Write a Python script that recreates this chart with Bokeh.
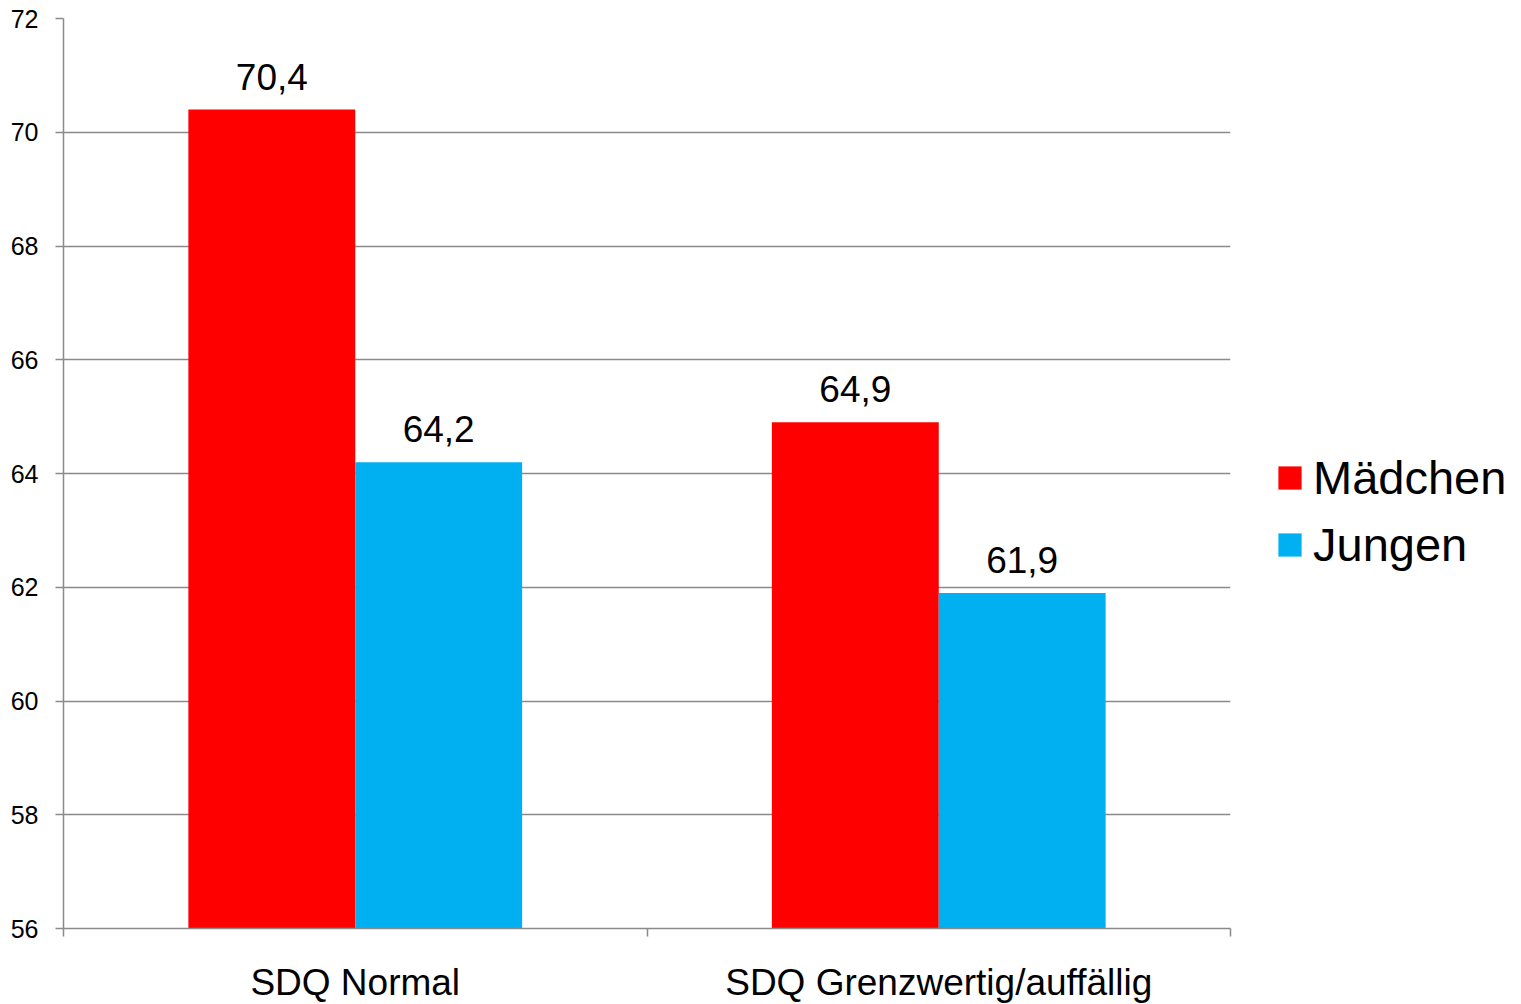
from bokeh.plotting import figure
from bokeh.models import Range1d, FixedTicker, Legend, LegendItem, ColumnDataSource
from bokeh.core.properties import value
from bokeh.embed import file_html
from bokeh.resources import INLINE

categories = ["SDQ Normal", "SDQ Grenzwertig/auffällig"]
series_names = ["Mädchen", "Jungen"]
maedchen = [70.4, 64.9]
jungen = [64.2, 61.9]
colors = ["#FF0000", "#00B0F0"]
y_ticks = [56, 58, 60, 62, 64, 66, 68, 70, 72]

FONT = "Liberation Sans"
GRID = "#8a8a8a"
bar_w = 0.286

p = figure(frame_width=1167, frame_height=910, min_border_left=63, min_border_right=283,
           min_border_top=18, min_border_bottom=60,
           x_range=Range1d(0, len(categories)), y_range=Range1d(56, 72),
           output_backend="svg", toolbar_location=None, background_fill_color="white",
           border_fill_color="white")
p.outline_line_color = None

centers = [i + 0.5 for i in range(len(categories))]
renderers = []
for k, (name, vals, col) in enumerate(zip(series_names, [maedchen, jungen], colors)):
    off = (k - 0.5) * bar_w
    src = ColumnDataSource(dict(x=[c + off for c in centers], top=vals,
                                lab=[f"{v:.1f}".replace(".", ",") for v in vals]))
    r = p.vbar(x="x", top="top", bottom=56, width=bar_w, source=src, fill_color=col, line_color=None)
    renderers.append(r)
    p.text(x="x", y="top", text="lab", source=src, text_align="center", text_baseline="alphabetic",
           y_offset=-33, text_font=value(FONT), text_font_size="37px", text_color="black")

# x axis
p.xaxis.ticker = FixedTicker(ticks=centers, minor_ticks=list(range(len(categories) + 1)))
p.xaxis.major_label_overrides = {c: cat for c, cat in zip(centers, categories)}
p.xaxis.major_tick_line_color = None
p.xaxis.major_tick_out = 0
p.xaxis.major_tick_in = 0
p.xaxis.minor_tick_line_color = GRID
p.xaxis.minor_tick_out = 8
p.xaxis.minor_tick_in = 0
p.xaxis.minor_tick_line_width = 1.5
p.xaxis.axis_line_color = GRID
p.xaxis.axis_line_width = 1.5
p.xaxis.major_label_text_font = FONT
p.xaxis.major_label_text_font_size = "37px"
p.xaxis.major_label_text_color = "black"
p.xaxis.major_label_standoff = 25
p.xgrid.grid_line_color = None

# y axis
p.yaxis.ticker = FixedTicker(ticks=y_ticks, minor_ticks=[])
p.yaxis.axis_line_color = GRID
p.yaxis.axis_line_width = 1.5
p.yaxis.major_tick_line_color = GRID
p.yaxis.major_tick_line_width = 1.5
p.yaxis.major_tick_out = 8
p.yaxis.major_tick_in = 0
p.yaxis.minor_tick_line_color = None
p.yaxis.major_label_text_font = FONT
p.yaxis.major_label_text_font_size = "25px"
p.yaxis.major_label_text_color = "black"
p.yaxis.major_label_standoff = 17
p.ygrid.grid_line_color = GRID
p.ygrid.grid_line_width = 1.5
p.ygrid.ticker = FixedTicker(ticks=y_ticks)

legend = Legend(items=[LegendItem(label=n, renderers=[r]) for n, r in zip(series_names, renderers)],
                location=(45, 356), padding=0, margin=0, spacing=12,
                glyph_width=29, glyph_height=29, label_standoff=9,
                label_text_font=FONT, label_text_font_size="47px", label_text_color="black",
                border_line_color=None, background_fill_alpha=0)
p.add_layout(legend, "right")

open("out.html", "w").write(file_html(p, INLINE))
